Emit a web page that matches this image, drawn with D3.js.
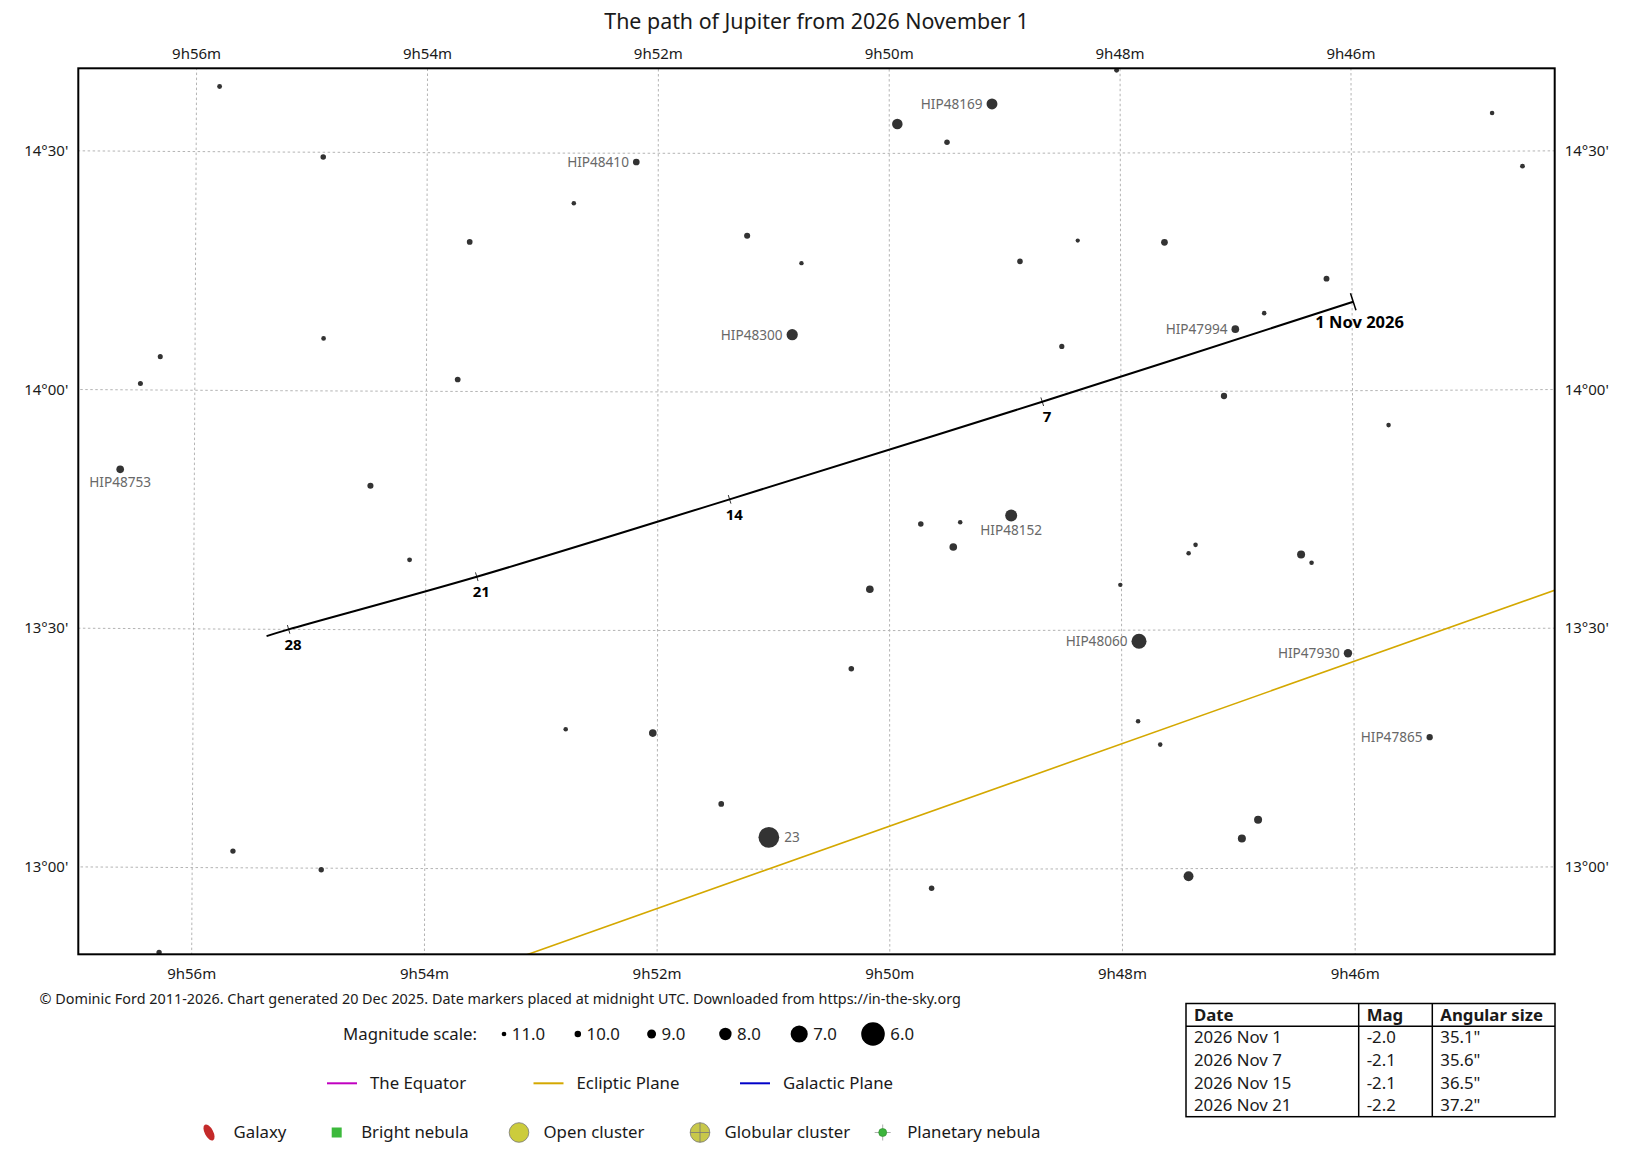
<!DOCTYPE html>
<html>
<head>
<meta charset="utf-8">
<script src="https://cdn.jsdelivr.net/npm/d3@7"></script>
<style>
  body { margin: 0; background: #fff; }
  svg { display: block; }
  text { font-family: "Noto Sans", "DejaVu Sans", sans-serif; fill: #1a1a1a; }
</style>
</head>
<body>
<svg id="chart" width="1633" height="1151"></svg>
<script>
// Positions: ra = minutes of time after 9h, dec = arcminutes after +13°
const stars = [
    { ra: 55.80, dec: 98.2, mag: 10.9 },
    { ra: 54.90, dec: 89.4, mag: 10.5 },
    { ra: 52.19, dec: 88.9, mag: 9.9, name: "HIP48410" },
    { ra: 52.73, dec: 83.7, mag: 11.1 },
    { ra: 53.63, dec: 78.8, mag: 10.4 },
    { ra: 51.23, dec: 79.65, mag: 10.2 },
    { ra: 50.76, dec: 76.2, mag: 11.2 },
    { ra: 50.84, dec: 67.2, mag: 8.3, name: "HIP48300" },
    { ra: 54.89, dec: 66.6, mag: 11.0 },
    { ra: 56.30, dec: 64.2, mag: 10.8 },
    { ra: 56.47, dec: 60.8, mag: 10.8 },
    { ra: 53.73, dec: 61.5, mag: 10.4 },
    { ra: 48.03, dec: 100.4, mag: 10.9 },
    { ra: 49.11, dec: 96.2, mag: 8.4, name: "HIP48169" },
    { ra: 49.93, dec: 93.7, mag: 8.5 },
    { ra: 49.50, dec: 91.4, mag: 10.5 },
    { ra: 44.78, dec: 94.8, mag: 11.1 },
    { ra: 44.52, dec: 88.1, mag: 10.9 },
    { ra: 48.37, dec: 79.0, mag: 11.3 },
    { ra: 47.62, dec: 78.75, mag: 9.9 },
    { ra: 48.87, dec: 76.4, mag: 10.5 },
    { ra: 46.22, dec: 74.1, mag: 10.3 },
    { ra: 46.76, dec: 69.8, mag: 11.1 },
    { ra: 47.01, dec: 67.8, mag: 9.5, name: "HIP47994" },
    { ra: 48.51, dec: 65.7, mag: 10.7 },
    { ra: 47.11, dec: 59.4, mag: 10.1 },
    { ra: 56.64, dec: 50.0, mag: 9.5, name: "HIP48753" },
    { ra: 54.48, dec: 48.1, mag: 10.2 },
    { ra: 54.14, dec: 38.8, mag: 10.9 },
    { ra: 52.79, dec: 17.55, mag: 11.1 },
    { ra: 52.04, dec: 17.1, mag: 9.5 },
    { ra: 51.45, dec: 8.2, mag: 10.4 },
    { ra: 51.04, dec: 4.0, mag: 6.4, name: "23" },
    { ra: 55.65, dec: 2.1, mag: 10.6 },
    { ra: 54.89, dec: -0.2, mag: 10.6 },
    { ra: 56.28, dec: -10.7, mag: 10.6 },
    { ra: 45.69, dec: 55.65, mag: 11.1 },
    { ra: 48.95, dec: 44.45, mag: 8.1, name: "HIP48152" },
    { ra: 49.73, dec: 43.4, mag: 10.5 },
    { ra: 49.39, dec: 43.6, mag: 11.1 },
    { ra: 49.45, dec: 40.5, mag: 9.5 },
    { ra: 50.17, dec: 35.2, mag: 9.5 },
    { ra: 47.36, dec: 40.7, mag: 11.1 },
    { ra: 47.42, dec: 39.65, mag: 11.1 },
    { ra: 46.45, dec: 39.45, mag: 9.35 },
    { ra: 46.36, dec: 38.4, mag: 11.1 },
    { ra: 48.01, dec: 35.7, mag: 11.2 },
    { ra: 47.85, dec: 28.6, mag: 7.4, name: "HIP48060" },
    { ra: 46.05, dec: 27.0, mag: 9.2, name: "HIP47930" },
    { ra: 50.33, dec: 25.2, mag: 10.5 },
    { ra: 47.86, dec: 18.55, mag: 11.1 },
    { ra: 47.67, dec: 15.6, mag: 11.1 },
    { ra: 45.35, dec: 16.4, mag: 10.1, name: "HIP47865" },
    { ra: 46.83, dec: 6.1, mag: 9.35 },
    { ra: 46.97, dec: 3.75, mag: 9.35 },
    { ra: 47.43, dec: -0.96, mag: 8.7 },
    { ra: 49.64, dec: -2.4, mag: 10.5 }
];

// Jupiter at midnight UTC
const jupiterLabels = ["1 Nov 2026", "7", "14", "21", "28", null];
const jupiterRA = [45.99, 48.68, 51.38, 53.56, 55.18, 55.37];
const jupiterDec = [71.18, 58.75, 46.50, 36.71, 30.00, 29.14];

// two points on the ecliptic (same units)
const eclipticRA = [53.52, 43.87];
const eclipticDec = [-12.89, 36.77];

const raTicks = [44, 46, 48, 50, 52, 54, 56, 58];
const decTicks = [0, 30, 60, 90];
const decTickLabels = ["13°00'", "13°30'", "14°00'", "14°30'"];

const legendMags = [11, 10, 9, 8, 7, 6];
const legendLines = ["The Equator", "Ecliptic Plane", "Galactic Plane"];
const legendObjects = ["Galaxy", "Bright nebula", "Open cluster", "Globular cluster", "Planetary nebula"];

const tableHeader = ["Date", "Mag", "Angular size"];
const tableDates = ["2026 Nov 1", "2026 Nov 7", "2026 Nov 15", "2026 Nov 21"];
const tableMags = ["-2.0", "-2.1", "-2.1", "-2.2"];
const tableSizes = ["35.1\"", "35.6\"", "36.5\"", "37.2\""];

/* ---- layout & style ---- */
const plot = { left: 78.3, right: 1554.7, top: 68.3, bottom: 954.3 };
const lineColors = { "The Equator": "#c000c0", "Ecliptic Plane": "#d4a800", "Galactic Plane": "#0000c8" };
const labelSide = { "HIP48753": "below", "HIP48152": "below", "23": "right" };

const svg = d3.select("#chart");

const lonLat = (ra, dec) => [(9 + ra / 60) * 15, 13 + dec / 60];

// gnomonic chart, RA increasing to the left
const projection = d3.geoGnomonic()
    .rotate([-147.6575, -13.75])
    .reflectX(true)
    .scale(27340)
    .translate([816.5, 511.3]);
const geoPath = d3.geoPath(projection);

const fluxToRadius = d3.scalePow().exponent(0.35)
    .domain([0, Math.pow(10, -0.4 * 6)]).range([0, 11.8]);
const starRadius = mag => fluxToRadius(Math.pow(10, -0.4 * mag));

svg.append("defs").append("clipPath").attr("id", "plotClip")
    .append("rect")
    .attr("x", plot.left).attr("y", plot.top)
    .attr("width", plot.right - plot.left).attr("height", plot.bottom - plot.top);

const plotG = svg.append("g").attr("clip-path", "url(#plotClip)");

// grid
const gridG = plotG.append("g")
    .attr("fill", "none").attr("stroke", "#b4b4b4")
    .attr("stroke-width", 1).attr("stroke-dasharray", "2.5,2.5");
raTicks.forEach(m => {
    gridG.append("path")
        .attr("d", geoPath({ type: "LineString", coordinates: [lonLat(m, -60), lonLat(m, 150)] }));
});
decTicks.forEach(d => {
    gridG.append("path")
        .attr("d", geoPath({ type: "LineString", coordinates: d3.range(40, 62.01, 0.25).map(m => lonLat(m, d)) }));
});

// ecliptic
plotG.append("path")
    .attr("d", geoPath({ type: "LineString", coordinates: eclipticRA.map((r, i) => lonLat(r, eclipticDec[i])) }))
    .attr("fill", "none").attr("stroke", lineColors["Ecliptic Plane"]).attr("stroke-width", 1.6);

// stars
const starPos = d => projection(lonLat(d.ra, d.dec));
plotG.append("g").selectAll("circle")
    .data(stars).join("circle")
    .attr("cx", d => starPos(d)[0])
    .attr("cy", d => starPos(d)[1])
    .attr("r", d => starRadius(d.mag))
    .attr("fill", "#333");

plotG.append("g").selectAll("text")
    .data(stars.filter(d => d.name)).join("text")
    .each(function (d) {
        const [x, y] = starPos(d);
        const r = starRadius(d.mag);
        const side = labelSide[d.name] || "left";
        const t = d3.select(this);
        if (side === "left") t.attr("x", x - r - 4).attr("y", y).attr("text-anchor", "end");
        else if (side === "right") t.attr("x", x + r + 5).attr("y", y).attr("text-anchor", "start");
        else t.attr("x", x).attr("y", y + r + 9).attr("text-anchor", "middle");
    })
    .attr("dy", "0.35em")
    .attr("font-size", 13.6)
    .style("fill", "#686868")
    .text(d => d.name);

// Jupiter's path
const jupiterPts = jupiterRA.map((r, i) => projection(lonLat(r, jupiterDec[i])));
plotG.append("path")
    .attr("d", d3.line().curve(d3.curveCatmullRom.alpha(0.5))(jupiterPts))
    .attr("fill", "none").attr("stroke", "#000").attr("stroke-width", 2);

jupiterPts.forEach((p, i) => {
    if (!jupiterLabels[i]) return;
    const a = jupiterPts[Math.max(0, i - 1)];
    const b = jupiterPts[Math.min(jupiterPts.length - 1, i + 1)];
    const dx = b[0] - a[0], dy = b[1] - a[1];
    const len = Math.hypot(dx, dy);
    let nx = -dy / len, ny = dx / len;
    if (ny < 0) { nx = -nx; ny = -ny; }
    const first = i === 0;
    const half = first ? 9 : 4.5;
    plotG.append("line")
        .attr("x1", p[0] - nx * half).attr("y1", p[1] - ny * half)
        .attr("x2", p[0] + nx * half).attr("y2", p[1] + ny * half)
        .attr("stroke", "#000").attr("stroke-width", first ? 1.5 : 0.8);
    const off = first ? 21 : 16;
    plotG.append("text")
        .attr("x", p[0] + nx * off).attr("y", p[1] + ny * off)
        .attr("dy", "0.35em").attr("text-anchor", "middle")
        .attr("font-size", first ? 16.5 : 15).attr("font-weight", "bold")
        .style("fill", "#000")
        .text(jupiterLabels[i]);
});

// frame
svg.append("rect")
    .attr("x", plot.left).attr("y", plot.top)
    .attr("width", plot.right - plot.left).attr("height", plot.bottom - plot.top)
    .attr("fill", "none").attr("stroke", "#000").attr("stroke-width", 2);

// axis labels
function xAtY(m, y) {
    const p = projection(lonLat(m, -60)), q = projection(lonLat(m, 150));
    return p[0] + (y - p[1]) * (q[0] - p[0]) / (q[1] - p[1]);
}
function yAtX(d, x) {
    let lon = projection.invert([x, 511])[0];
    for (let k = 0; k < 4; k++) {
        const p = projection([lon, 13 + d / 60]);
        lon = projection.invert([x, p[1]])[0];
    }
    return projection([lon, 13 + d / 60])[1];
}
const axisG = svg.append("g").attr("font-size", 15);
raTicks.forEach(m => {
    const xt = xAtY(m, plot.top), xb = xAtY(m, plot.bottom);
    if (xt > plot.left && xt < plot.right) {
        axisG.append("text").attr("x", xt).attr("y", 53.5).attr("dy", "0.35em")
            .attr("text-anchor", "middle").text(`9h${m}m`);
    }
    if (xb > plot.left && xb < plot.right) {
        axisG.append("text").attr("x", xb).attr("y", 973.5).attr("dy", "0.35em")
            .attr("text-anchor", "middle").text(`9h${m}m`);
    }
});
decTicks.forEach((d, i) => {
    axisG.append("text").attr("x", plot.left - 10).attr("y", yAtX(d, plot.left))
        .attr("dy", "0.35em").attr("text-anchor", "end").text(decTickLabels[i]);
    axisG.append("text").attr("x", plot.right + 10).attr("y", yAtX(d, plot.right))
        .attr("dy", "0.35em").attr("text-anchor", "start").text(decTickLabels[i]);
});

// title & credit
svg.append("text").attr("x", 816.5).attr("y", 21.7).attr("dy", "0.35em")
    .attr("text-anchor", "middle").attr("font-size", 21.4)
    .text("The path of Jupiter from 2026 November 1");
svg.append("text").attr("x", 39.5).attr("y", 999.3).attr("dy", "0.35em")
    .attr("font-size", 14.4)
    .text("© Dominic Ford 2011-2026. Chart generated 20 Dec 2025. Date markers placed at midnight UTC. Downloaded from https://in-the-sky.org");

// magnitude legend
const legG = svg.append("g").attr("font-size", 16.8);
const magY = 1034;
legG.append("text").attr("x", 343).attr("y", magY).attr("dy", "0.35em").text("Magnitude scale:");
const magX = d3.scalePoint().domain(legendMags).range([504, 873]);
legendMags.forEach(m => {
    const r = starRadius(m);
    legG.append("circle").attr("cx", magX(m)).attr("cy", magY).attr("r", r).attr("fill", "#000");
    legG.append("text").attr("x", magX(m) + r + 5.5).attr("y", magY).attr("dy", "0.35em").text(m.toFixed(1));
});

// line legend
const lineY = 1083.3;
const lineX = d3.scalePoint().domain(legendLines).range([327, 740]);
legendLines.forEach(name => {
    legG.append("line").attr("x1", lineX(name)).attr("x2", lineX(name) + 30)
        .attr("y1", lineY).attr("y2", lineY)
        .attr("stroke", lineColors[name]).attr("stroke-width", 2);
    legG.append("text").attr("x", lineX(name) + 43).attr("y", lineY).attr("dy", "0.35em").text(name);
});

// deep-sky object legend
const objY = 1132.5;
const objX = { "Galaxy": 209, "Bright nebula": 336.7, "Open cluster": 519, "Globular cluster": 700, "Planetary nebula": 882.7 };
legendObjects.forEach(name => {
    const x = objX[name];
    const g = legG.append("g").attr("transform", `translate(${x},${objY})`);
    if (name === "Galaxy") {
        g.append("ellipse").attr("rx", 4.2).attr("ry", 8.8).attr("transform", "rotate(-28)")
            .attr("fill", "#c42a2a");
    } else if (name === "Bright nebula") {
        g.append("rect").attr("x", -5).attr("y", -5).attr("width", 10).attr("height", 10)
            .attr("fill", "#3cb93c");
    } else if (name === "Open cluster") {
        g.append("circle").attr("r", 9.8).attr("fill", "#cccc3c").attr("stroke", "#777").attr("stroke-width", 0.8);
    } else if (name === "Globular cluster") {
        g.append("circle").attr("r", 9.8).attr("fill", "#c8c84a").attr("stroke", "#777").attr("stroke-width", 0.8);
        g.append("line").attr("x1", -9.8).attr("x2", 9.8).attr("stroke", "#777").attr("stroke-width", 0.8);
        g.append("line").attr("y1", -9.8).attr("y2", 9.8).attr("stroke", "#777").attr("stroke-width", 0.8);
    } else {
        g.append("line").attr("x1", -8).attr("x2", 8).attr("stroke", "#999").attr("stroke-width", 0.8);
        g.append("line").attr("y1", -8).attr("y2", 8).attr("stroke", "#999").attr("stroke-width", 0.8);
        g.append("circle").attr("r", 4).attr("fill", "#3cb43c").attr("stroke", "#2a8a2a").attr("stroke-width", 0.6);
    }
    legG.append("text").attr("x", x + 24.5).attr("y", objY).attr("dy", "0.35em").text(name);
});

// data table
const tbl = { left: 1186, right: 1555, top: 1003.5, head: 1026.3, row: 22.6, cols: [1186, 1358.7, 1432.3] };
const tableG = svg.append("g").attr("font-size", 16.8);
const nRows = tableDates.length;
tableG.append("rect")
    .attr("x", tbl.left).attr("y", tbl.top)
    .attr("width", tbl.right - tbl.left).attr("height", tbl.head - tbl.top + nRows * tbl.row)
    .attr("fill", "none").attr("stroke", "#000").attr("stroke-width", 1.5);
tableG.append("line").attr("x1", tbl.left).attr("x2", tbl.right)
    .attr("y1", tbl.head).attr("y2", tbl.head).attr("stroke", "#000").attr("stroke-width", 1.5);
tbl.cols.slice(1).forEach(cx => {
    tableG.append("line").attr("x1", cx).attr("x2", cx)
        .attr("y1", tbl.top).attr("y2", tbl.head + nRows * tbl.row)
        .attr("stroke", "#000").attr("stroke-width", 1.5);
});
tableHeader.forEach((h, j) => {
    tableG.append("text").attr("x", tbl.cols[j] + 8).attr("y", (tbl.top + tbl.head) / 2)
        .attr("dy", "0.35em").attr("font-weight", "bold").text(h);
});
[tableDates, tableMags, tableSizes].forEach((col, j) => {
    col.forEach((v, i) => {
        tableG.append("text").attr("x", tbl.cols[j] + 8)
            .attr("y", tbl.head + tbl.row * (i + 0.5))
            .attr("dy", "0.35em").text(v);
    });
});
</script>
</body>
</html>
